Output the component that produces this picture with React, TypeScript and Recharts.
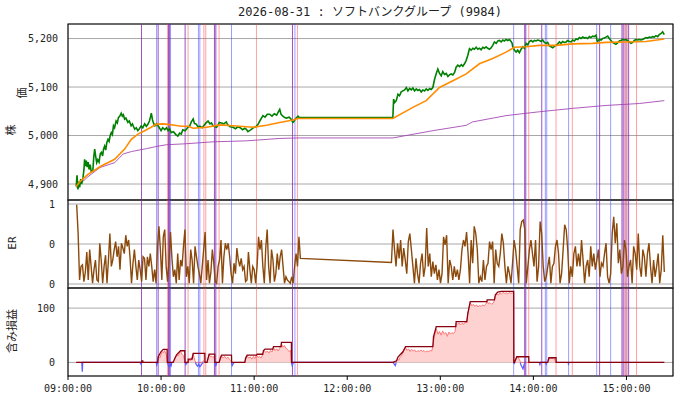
import {
  ComposedChart,
  Line,
  Area,
  XAxis,
  YAxis,
  CartesianGrid,
  ReferenceLine,
  ReferenceArea,
} from "recharts";

// time axis: minutes after 09:00
const X_DOMAIN = [0, 390];
const X_TICKS = [0, 60, 120, 180, 240, 300, 360];

const TITLE = "2026-08-31 : ソフトバンクグループ (9984)";

// [minute, price]
const PRICE: [number, number][] = [
  [5.3, 4895], [5.8, 4918], [6.4, 4889], [7.0, 4905], [7.5, 4893], [8.2, 4910], [8.8, 4900],
  [9.7, 4914], [10.3, 4930], [10.7, 4951], [11.3, 4937], [11.8, 4948], [12.4, 4935], [13.0, 4945],
  [13.6, 4930], [14.3, 4940], [15.0, 4925], [16.0, 4927], [16.6, 4955], [17.2, 4972], [17.8, 4958],
  [18.5, 4944], [19.2, 4950], [20.0, 4945], [20.8, 4962], [21.5, 4965], [22.3, 4958], [22.9, 4972],
  [23.6, 4978], [24.3, 4970], [25.0, 4985], [25.8, 4992], [26.5, 4988], [27.2, 5000], [27.9, 5006],
  [28.6, 5002], [29.3, 5020], [30.0, 5016], [31.0, 5030], [31.8, 5026], [32.5, 5037], [33.4, 5040],
  [34.3, 5046], [35.0, 5040], [35.7, 5043], [36.5, 5034], [37.3, 5036], [38.6, 5027], [39.5, 5030],
  [40.7, 5020], [41.5, 5024], [43.0, 5013], [44.0, 5016], [45.0, 5010], [46.0, 5014], [47.2, 5020],
  [48.2, 5016], [49.4, 5024], [50.5, 5019], [51.5, 5023], [52.5, 5030], [53.3, 5040], [53.7, 5046],
  [54.5, 5032], [55.2, 5025], [56.0, 5020], [57.0, 5024], [58.5, 5018], [60.0, 5010], [61.0, 5016],
  [62.4, 5012], [63.5, 5016], [64.5, 5010], [65.5, 5014], [66.5, 5006], [68.0, 5008], [69.5, 5002],
  [70.8, 4999], [72.0, 5005], [73.0, 5003], [74.0, 5012], [75.5, 5010], [77.3, 5017], [78.5, 5020],
  [79.5, 5028], [80.7, 5034], [81.5, 5025], [82.5, 5024], [84.0, 5017], [85.0, 5019], [86.5, 5016],
  [88.0, 5022], [89.0, 5026], [90.3, 5030], [91.5, 5024], [92.5, 5026], [93.5, 5020], [95.7, 5017],
  [96.5, 5020], [97.5, 5027], [99.0, 5026], [100.5, 5024], [102.0, 5028], [103.0, 5022], [104.5, 5018],
  [106.4, 5017], [108.0, 5014], [109.5, 5018], [111.0, 5016], [112.5, 5012], [114.0, 5015], [115.0, 5013],
  [116.0, 5008], [117.0, 5010], [118.0, 5012], [119.5, 5016], [121.0, 5018], [122.5, 5023], [124.0, 5032],
  [125.7, 5041], [127.0, 5038], [128.5, 5044], [130.0, 5044], [131.5, 5040], [133.0, 5045], [134.5, 5042],
  [135.5, 5048], [136.5, 5054], [137.3, 5044], [138.5, 5040], [139.7, 5037], [141.0, 5036], [142.5, 5038],
  [143.5, 5035], [145.0, 5027], [145.8, 5030], [146.5, 5034], [148.3, 5040], [149.0, 5037], [150.0, 5037],
  [209.4, 5037], [209.9, 5075], [210.5, 5068], [211.6, 5072], [212.7, 5085], [213.7, 5082], [214.8, 5090],
  [215.9, 5092], [217.0, 5094], [218.1, 5099], [219.1, 5092], [220.2, 5097], [221.3, 5094], [222.3, 5098],
  [223.4, 5092], [224.5, 5096], [225.5, 5093], [226.6, 5095], [227.7, 5090], [228.8, 5094], [229.8, 5092],
  [230.9, 5096], [232.0, 5093], [233.1, 5097], [234.1, 5095], [235.2, 5099], [236.3, 5116], [237.4, 5128],
  [238.4, 5137], [239.5, 5128], [240.6, 5123], [241.6, 5132], [242.7, 5126], [243.8, 5128], [244.9, 5122],
  [245.9, 5125], [247.0, 5127], [248.1, 5125], [249.2, 5130], [250.2, 5141], [251.3, 5145], [252.4, 5142],
  [253.5, 5146], [254.5, 5143], [255.6, 5148], [256.7, 5155], [257.7, 5165], [258.8, 5179], [259.9, 5176],
  [261.0, 5180], [262.0, 5178], [263.1, 5182], [264.2, 5178], [265.2, 5180], [266.3, 5177], [267.4, 5182],
  [268.5, 5180], [269.5, 5183], [270.6, 5180], [271.7, 5178], [272.8, 5181], [273.8, 5186], [274.9, 5193],
  [276.0, 5190], [277.1, 5195], [278.1, 5196], [279.2, 5193], [280.3, 5197], [281.3, 5195], [282.4, 5198],
  [283.5, 5196], [284.6, 5198], [285.6, 5194], [286.3, 5190], [286.7, 5183], [287.8, 5176], [288.9, 5172],
  [289.9, 5176], [291.0, 5171], [292.1, 5178], [293.2, 5183], [294.2, 5180], [295.3, 5190], [296.4, 5187],
  [297.4, 5194], [298.5, 5196], [299.6, 5193], [300.7, 5196], [301.7, 5195], [302.8, 5197], [303.9, 5196],
  [305.0, 5194], [306.0, 5197], [307.1, 5192], [308.2, 5190], [309.2, 5192], [310.3, 5185], [311.4, 5183],
  [312.5, 5181], [313.5, 5184], [314.6, 5186], [315.7, 5189], [316.8, 5193], [317.8, 5190], [318.9, 5194],
  [320.0, 5192], [321.1, 5193], [322.1, 5196], [323.2, 5194], [324.3, 5193], [325.3, 5197], [326.4, 5195],
  [327.5, 5199], [328.6, 5198], [329.6, 5202], [330.7, 5200], [331.8, 5203], [332.9, 5201], [333.9, 5202],
  [335.0, 5200], [336.1, 5204], [337.1, 5202], [338.2, 5205], [339.3, 5204], [340.4, 5207], [341.0, 5196],
  [341.4, 5194], [342.5, 5198], [343.6, 5197], [344.6, 5200], [345.7, 5201], [346.8, 5203], [347.9, 5205],
  [348.9, 5200], [350.0, 5196], [351.1, 5192], [352.1, 5190], [353.2, 5188], [354.3, 5191], [355.4, 5195],
  [356.4, 5196], [357.5, 5198], [358.6, 5197], [359.7, 5198], [360.7, 5196], [361.8, 5193], [362.9, 5190],
  [364.0, 5192], [365.0, 5196], [366.1, 5198], [367.2, 5197], [368.3, 5198], [369.3, 5197], [370.4, 5198],
  [371.5, 5200], [372.6, 5202], [373.6, 5201], [374.7, 5203], [375.8, 5202], [376.8, 5204], [377.9, 5203],
  [379.0, 5206], [380.1, 5204], [381.1, 5208], [382.2, 5210], [383.3, 5214], [384.4, 5208],
];

// moving average (orange)
const MA: [number, number][] = [
  [5.3, 4895], [7.7, 4905], [12.9, 4920], [21.4, 4937], [30.1, 4951], [36.5, 4972], [40.8, 4992],
  [45.1, 5003], [49.4, 5010], [53.6, 5017], [56.8, 5023], [61.2, 5024], [64.4, 5023], [68.7, 5021],
  [72.9, 5019], [77.3, 5019], [80.7, 5015], [89.3, 5017], [97.9, 5022], [106.4, 5020], [119.3, 5017],
  [127.9, 5021], [136.5, 5027], [145.0, 5032], [148.1, 5035], [209.4, 5035], [222.3, 5058],
  [230.9, 5072], [239.5, 5099], [248.1, 5113], [256.7, 5127], [265.2, 5148], [273.8, 5159],
  [282.4, 5172], [287.8, 5182], [295.3, 5183], [303.9, 5186], [314.6, 5186], [325.3, 5189],
  [338.2, 5190], [346.8, 5192], [359.7, 5193], [372.6, 5194], [384.4, 5199],
];

// VWAP (purple)
const VWAP: [number, number][] = [
  [5.3, 4893], [12.9, 4915], [20.6, 4934], [30.1, 4944], [35.6, 4962], [41.0, 4967], [50.7, 4973],
  [57.9, 4978], [63.5, 4981], [76.0, 4983], [93.5, 4987], [115.0, 4989], [136.5, 4994], [148.1, 4995],
  [209.4, 4995], [235.2, 5010], [256.7, 5021], [260.7, 5028], [282.4, 5041], [303.9, 5049],
  [325.3, 5056], [346.8, 5062], [368.3, 5066], [384.4, 5072],
];

// ER, morning session, evenly spaced readings
const ER_AM_START = 5.6;
const ER_AM_END = 149.8;
const ER_AM = [
  0.99, 0.63, 0.05, 0.22, 0.24, 0.03, 0.15, 0.40, 0.05, 0.43, 0.22, 0.01, 0.18, 0.30, 0.05, 0.03,
  0.51, 0.30, 0.01, 0.22, 0.36, 0.01, 0.30, 0.63, 0.22, 0.30, 0.43, 0.53, 0.34, 0.47, 0.18, 0.51,
  0.45, 0.38, 0.61, 0.47, 0.55, 0.32, 0.01, 0.26, 0.43, 0.22, 0.05, 0.30, 0.18, 0.03, 0.34, 0.32,
  0.05, 0.34, 0.22, 0.38, 0.22, 0.03, 0.18, 0.01, 0.47, 0.72, 0.43, 0.05, 0.59, 0.68, 0.22, 0.03,
  0.30, 0.65, 0.32, 0.09, 0.18, 0.01, 0.38, 0.05, 0.30, 0.22, 0.47, 0.68, 0.09, 0.22, 0.01, 0.43,
  0.30, 0.01, 0.47, 0.34, 0.22, 0.13, 0.01, 0.22, 0.43, 0.65, 0.05, 0.30, 0.01, 0.15, 0.43, 0.26,
  0.03, 0.01, 0.22, 0.30, 0.55, 0.01, 0.34, 0.51, 0.43, 0.51, 0.34, 0.13, 0.01, 0.26, 0.13, 0.45,
  0.30, 0.22, 0.32, 0.18, 0.22, 0.03, 0.05, 0.40, 0.18, 0.01, 0.22, 0.18, 0.01, 0.22, 0.59, 0.43,
  0.55, 0.22, 0.01, 0.45, 0.68, 0.22, 0.01, 0.43, 0.30, 0.03, 0.13, 0.38, 0.18, 0.34, 0.43, 0.22,
  0.01, 0.09, 0.05, 0.03, 0.01, 0.09, 0.01, 0.22, 0.38, 0.22, 0.59, 0.32,
];

// ER, afternoon session (first value closes the lunch gap)
const ER_PM_START = 208.5;
const ER_PM_END = 384.4;
const ER_PM = [
  0.27, 0.68, 0.43, 0.22, 0.51, 0.32, 0.55, 0.22, 0.45, 0.30, 0.13, 0.53, 0.63, 0.43, 0.22, 0.01,
  0.32, 0.13, 0.01, 0.26, 0.38, 0.09, 0.22, 0.70, 0.22, 0.38, 0.09, 0.28, 0.13, 0.24, 0.05, 0.18,
  0.01, 0.13, 0.59, 0.49, 0.61, 0.01, 0.30, 0.22, 0.05, 0.22, 0.09, 0.18, 0.05, 0.18, 0.43, 0.55,
  0.47, 0.65, 0.38, 0.01, 0.55, 0.26, 0.72, 0.63, 0.43, 0.01, 0.09, 0.03, 0.30, 0.05, 0.22, 0.26,
  0.53, 0.43, 0.53, 0.01, 0.43, 0.26, 0.22, 0.38, 0.63, 0.51, 0.22, 0.01, 0.22, 0.13, 0.01, 0.26,
  0.55, 0.43, 0.22, 0.01, 0.68, 0.78, 0.80, 0.68, 0.01, 0.22, 0.43, 0.55, 0.38, 0.22, 0.55, 0.03,
  0.22, 0.78, 0.63, 0.22, 0.03, 0.09, 0.22, 0.34, 0.01, 0.22, 0.26, 0.47, 0.55, 0.38, 0.01, 0.13,
  0.43, 0.74, 0.68, 0.43, 0.01, 0.22, 0.09, 0.38, 0.47, 0.22, 0.38, 0.22, 0.55, 0.30, 0.01, 0.22,
  0.30, 0.09, 0.47, 0.22, 0.38, 0.18, 0.30, 0.43, 0.09, 0.26, 0.22, 0.38, 0.51, 0.09, 0.01, 0.13,
  0.63, 0.84, 0.51, 0.76, 0.26, 0.43, 0.13, 0.22, 0.55, 0.43, 0.09, 0.22, 0.30, 0.01, 0.47, 0.38,
  0.18, 0.63, 0.22, 0.09, 0.43, 0.34, 0.09, 0.38, 0.51, 0.22, 0.01, 0.30, 0.09, 0.22, 0.38, 0.01,
  0.18, 0.61, 0.15,
];

// unrealized P&L
const PNL: [number, number][] = [
  [5.3, 0], [8.9, 0], [9.2, -17], [9.5, 0],
  [46.5, 0], [47.2, -4], [47.6, 3], [48.2, 0],
  [56.8, 0], [57.2, -5], [57.8, 4], [58.5, 10], [59.2, 8], [60, 15], [60.8, 20], [61.5, 18],
  [62.3, 22], [63.0, 17], [63.6, 12], [63.9, 5], [64.1, 0], [64.6, -5], [65.5, -8], [66.0, -3],
  [66.5, -6], [67, 0],
  [68.0, 3], [69, 8], [70, 14], [71, 12], [72, 18], [72.5, 20], [73.5, 15], [74.5, 12], [75.0, 5],
  [75.5, 0], [76, -4], [76.5, -2], [77, 0],
  [77.5, 0], [78.2, 5], [79, 3], [80, 10], [80.7, 16], [81.3, 8], [82, 2], [82.8, -4], [83.5, -7],
  [84.3, -3], [85, -8], [85.8, -5], [86.5, -2], [87.2, 3], [88.0, 1], [88.3, 0],
  [89.7, 0], [90.3, 8], [91, 15], [91.8, 10], [92.5, 12], [93.3, 9], [94.0, 11], [94.5, 4],
  [94.8, -3], [95.3, -6], [96, 0],
  [97.5, 0], [98.2, 5], [99, 12], [100, 8], [101, 11], [102, 7], [103, 10], [104, 6], [105, 3],
  [105.4, 0], [105.8, -6], [106.4, -3], [107, 0],
  [114.0, 0], [114.2, 3], [115.5, 12], [116.5, 8], [117.5, 10], [118.5, 6], [119.5, 11], [120.5, 7],
  [121.5, 14], [122.5, 9], [123.5, 11], [124.5, 8], [125.5, 14], [126.5, 22], [127.5, 18], [128.5, 21],
  [129.5, 17], [130.5, 22], [131.5, 19], [132.5, 27], [133.5, 22], [134.5, 25], [135.5, 21], [136.5, 26],
  [137.6, 34], [138.5, 28], [139.5, 31], [140.5, 26], [141.5, 24], [142.5, 20], [143.5, 22], [144.0, 0],
  [144.5, -6], [145.0, -2], [145.5, 0],
  [209.5, 0], [210.3, -3], [211, -6], [211.6, 2], [212.5, 6], [213.3, 4], [214, 9], [215, 12],
  [215.9, 18], [216.8, 24], [217.6, 27], [218.5, 22], [219.5, 25], [220.5, 20], [221.5, 24], [222.5, 21],
  [223.5, 23], [224.5, 19], [225.5, 22], [226.5, 20], [227.5, 23], [228.5, 20], [229.5, 22], [230.5, 19],
  [231.5, 21], [232.5, 20], [233.5, 22], [234.5, 21], [235.2, 30], [236, 45], [237.4, 62], [238.5, 52],
  [239.5, 57], [240.5, 50], [241.5, 58], [242.5, 52], [243.5, 55], [244.5, 48], [245.5, 56], [246.5, 52],
  [247.5, 55], [248.5, 53], [249.5, 57], [250.2, 72], [251, 70], [252, 73], [253, 69], [254, 72],
  [255, 70], [256, 74], [257, 73], [257.7, 88], [258.5, 100], [259.3, 110], [260.3, 104], [261.3, 107],
  [262.3, 103], [263.3, 106], [264.3, 102], [265.3, 105], [266.3, 103], [267.3, 106], [268.3, 104],
  [269.3, 107], [270.2, 113], [271, 108], [272, 110], [273, 107], [274, 109], [274.9, 114], [275.5, 122],
  [276.5, 126], [277.5, 124], [278.5, 128], [279.5, 126], [280.5, 129], [281.5, 127], [282.5, 128],
  [283.5, 126], [284.5, 129], [285.5, 127], [286.5, 128], [287.3, 127], [287.4, 0],
  [287.6, -2], [288.3, 3], [289, 8], [290, 10], [290.8, 6], [291.5, 2], [292, -5], [292.6, -8],
  [293.3, -12], [294, -4], [294.6, 2], [295.3, 0],
  [303.8, 0], [304.2, -4], [304.6, 0], [307.8, 0], [308.2, -3], [308.6, 0],
  [309.2, 0], [310, 5], [311, 9], [312, 7], [313, 9], [314.5, 0],
  [322.3, 0], [322.6, -3], [323, 0], [384.4, 0],
];

// running best P&L of the open position (dark red step)
const PEAK: [number, number][] = [
  [5.3, 0], [47.4, 0], [47.6, 3], [48.2, 3], [48.3, 0],
  [57.8, 0], [58.1, 10], [60, 20], [61.4, 24], [63.9, 24], [64.0, 0],
  [67.8, 0], [69, 8], [70, 14], [72.5, 21.5], [75.3, 21.5], [75.4, 0],
  [77.4, 0], [77.5, 6], [80.0, 6], [80.7, 16.6], [88.2, 16.6], [88.3, 0],
  [89.6, 0], [90.3, 8], [91, 15.4], [94.6, 15.4], [94.7, 0],
  [97.4, 0], [98.2, 8], [99, 13.5], [105.4, 13.5], [105.5, 0],
  [114, 0], [114.5, 8], [115.5, 13.5], [121.5, 13.5], [122, 15], [125.5, 15], [126, 22],
  [127, 24.6], [132, 24.6], [132.5, 29], [137.4, 29], [137.6, 37], [144, 37], [144.1, 0],
  [209.5, 0], [211.8, 3], [212.7, 10], [215.9, 19.6], [217.6, 29], [235.2, 29], [235.6, 47],
  [237.4, 66], [250.0, 66], [250.2, 75], [257.1, 75], [257.7, 90], [259.3, 112], [270.0, 112],
  [270.2, 115], [274.9, 115], [275.5, 124.6], [277.0, 129.6], [279.2, 130.7], [287.3, 130.7], [287.4, 0],
  [287.8, 0], [288.5, 5], [289.3, 10.4], [297, 10.4], [297.1, 0],
  [309.2, 0], [310, 8.6], [314.6, 8.6], [314.7, 0], [384.4, 0],
];

// signal markers (minutes after 09:00)
const BLUE_MARKS = [57.1, 66.1, 84.1, 85.0, 105.4, 146.3, 287.3, 307.7, 308.6, 322.7, 340.8, 349.8];
const RED_MARKS = [64.2, 77.4, 87.6, 88.8, 97.4, 121.5, 147.9, 297.0, 314.6, 325.1, 358.8, 360.5, 366.5];
const PURPLE_MARKS = [47.4, 58.1, 64.8, 65.5, 75.5, 94.4, 95.3, 144.7, 294.4, 295.1, 305.4, 342.7, 357.1, 357.9, 359.7, 361.4];

const FONT = "'DejaVu Sans Mono', 'Noto Sans CJK JP', monospace";
const TICK = { fontSize: 10, fill: "#222", fontFamily: FONT };
const GRID = "#a8a8a8";

const pts = (arr: [number, number][]) => arr.map(([t, v]) => ({ t, v }));
const grid = (vals: number[], a: number, b: number) =>
  vals.map((v, i) => ({ t: a + ((b - a) * i) / (vals.length - 1), v }));

const priceData = pts(PRICE);
const maData = pts(MA);
const vwapData = pts(VWAP);
const erData = [...grid(ER_AM, ER_AM_START, ER_AM_END), ...grid(ER_PM, ER_PM_START, ER_PM_END)];
const pnlPos = PNL.map(([t, v]) => ({ t, v: Math.max(v, 0) }));
const pnlNeg = PNL.map(([t, v], i) => {
  const near = v < 0 || (PNL[i - 1]?.[1] ?? 0) < 0 || (PNL[i + 1]?.[1] ?? 0) < 0;
  return { t, v: near ? Math.min(v, 0) : null };
});
const peakData = pts(PEAK);

const pad = (n: number) => String(n).padStart(2, "0");
const fmtTime = (t: number) => {
  const m = 540 + t;
  return `${pad(Math.floor(m / 60))}:${pad(m % 60)}:00`;
};

function markers(key: string) {
  const out = [];
  BLUE_MARKS.forEach((x, i) =>
    out.push(<ReferenceLine key={`${key}b${i}`} x={x} stroke="rgba(60,60,255,0.5)" strokeWidth={1} />)
  );
  RED_MARKS.forEach((x, i) =>
    out.push(<ReferenceLine key={`${key}r${i}`} x={x} stroke="rgba(255,70,70,0.5)" strokeWidth={1} />)
  );
  PURPLE_MARKS.forEach((x, i) =>
    out.push(<ReferenceLine key={`${key}p${i}`} x={x} stroke="rgba(130,40,180,0.8)" strokeWidth={1} />)
  );
  return out;
}

const layer = { position: "absolute" as const, left: 0, top: 0 };

export default function App() {
  return (
    <div style={{ position: "absolute", left: 0, top: 0, width: 680, height: 400, background: "#fff" }}>
      {/* price panel */}
      <div style={layer}>
        <ComposedChart width={680} height={400} margin={{ top: 24, right: 7, bottom: 200, left: 0 }}>
          <CartesianGrid vertical={false} stroke={GRID} />
          <XAxis dataKey="t" type="number" domain={X_DOMAIN} hide allowDataOverflow />
          <YAxis
            type="number"
            domain={[4867, 5230]}
            ticks={[4900, 5000, 5100, 5200]}
            tickFormatter={(v) => v.toLocaleString("en-US")}
            width={68}
            axisLine={false}
            tickLine={false}
            tickSize={4}
            tickMargin={6}
            tick={TICK}
            allowDataOverflow
          />
          {markers("a")}
          <Line data={vwapData} dataKey="v" stroke="#a040b0" strokeOpacity={0.85} strokeWidth={1} dot={false} isAnimationActive={false} />
          <Line data={priceData} dataKey="v" stroke="#008000" strokeWidth={1.6} dot={false} isAnimationActive={false} />
          <Line data={maData} dataKey="v" stroke="#ff8c00" strokeWidth={1.6} dot={false} isAnimationActive={false} />
          <ReferenceArea x1={0} x2={390} y1={4867} y2={5230} fill="none" stroke="#000" strokeWidth={1.2} ifOverflow="visible" />
        </ComposedChart>
      </div>

      {/* ER panel */}
      <div style={layer}>
        <ComposedChart width={680} height={400} margin={{ top: 200, right: 7, bottom: 112, left: 0 }}>
          <CartesianGrid vertical={false} stroke={GRID} />
          <XAxis dataKey="t" type="number" domain={X_DOMAIN} hide allowDataOverflow />
          <YAxis
            type="number"
            domain={[-0.05, 1.05]}
            ticks={[0, 0.5, 1]}
            tickFormatter={(v) => (v === 1 ? "1" : "0")}
            width={68}
            axisLine={false}
            tickLine={false}
            tickSize={4}
            tickMargin={9}
            tick={TICK}
            allowDataOverflow
          />
          {markers("e")}
          <Line data={erData} dataKey="v" stroke="#8b4a0c" strokeWidth={1.4} dot={false} isAnimationActive={false} />
          <ReferenceArea x1={0} x2={390} y1={-0.05} y2={1.05} fill="none" stroke="#000" strokeWidth={1.2} ifOverflow="visible" />
        </ComposedChart>
      </div>

      {/* P&L panel */}
      <div style={layer}>
        <ComposedChart width={680} height={400} margin={{ top: 288, right: 7, bottom: 0, left: 0 }}>
          <CartesianGrid vertical={false} stroke={GRID} />
          <XAxis
            dataKey="t"
            type="number"
            domain={X_DOMAIN}
            ticks={X_TICKS}
            tickFormatter={fmtTime}
            height={24}
            axisLine={false}
            tickSize={4}
            tickMargin={5}
            tickLine={{ stroke: "#000" }}
            tick={TICK}
            allowDataOverflow
          />
          <YAxis
            type="number"
            domain={[-25, 137]}
            ticks={[0, 100]}
            width={68}
            axisLine={false}
            tickLine={false}
            tickSize={4}
            tickMargin={9}
            tick={TICK}
            allowDataOverflow
          />
          {markers("p")}
          <Area data={pnlPos} dataKey="v" baseValue={0} type="linear" fill="#ffd2d2" fillOpacity={1} stroke="#ff7878" strokeWidth={1} dot={false} isAnimationActive={false} />
          <Line data={pnlNeg} dataKey="v" stroke="#5a5aff" strokeWidth={1.2} dot={false} isAnimationActive={false} />
          <Line data={peakData} dataKey="v" stroke="#8b0010" strokeWidth={1.3} dot={false} isAnimationActive={false} />
          <ReferenceArea x1={0} x2={390} y1={-25} y2={137} fill="none" stroke="#000" strokeWidth={1.2} ifOverflow="visible" />
        </ComposedChart>
      </div>

      {/* title and axis labels */}
      <svg width={680} height={400} style={{ ...layer, pointerEvents: "none" }}>
        <text x={370} y={16} textAnchor="middle" fontSize={12} fontFamily={FONT} fill="#222">
          {TITLE}
        </text>
        <text transform="translate(15,130) rotate(-90)" textAnchor="middle" fontSize={11} fontFamily={FONT} fill="#222">株</text>
        <text transform="translate(26,93) rotate(-90)" textAnchor="middle" fontSize={11} fontFamily={FONT} fill="#222">価</text>
        <text transform="translate(16,243) rotate(-90)" textAnchor="middle" fontSize={11} fontFamily={FONT} fill="#222">ER</text>
        <text transform="translate(16,331) rotate(-90)" textAnchor="middle" fontSize={11} fontFamily={FONT} fill="#222">含み損益</text>
      </svg>
    </div>
  );
}
